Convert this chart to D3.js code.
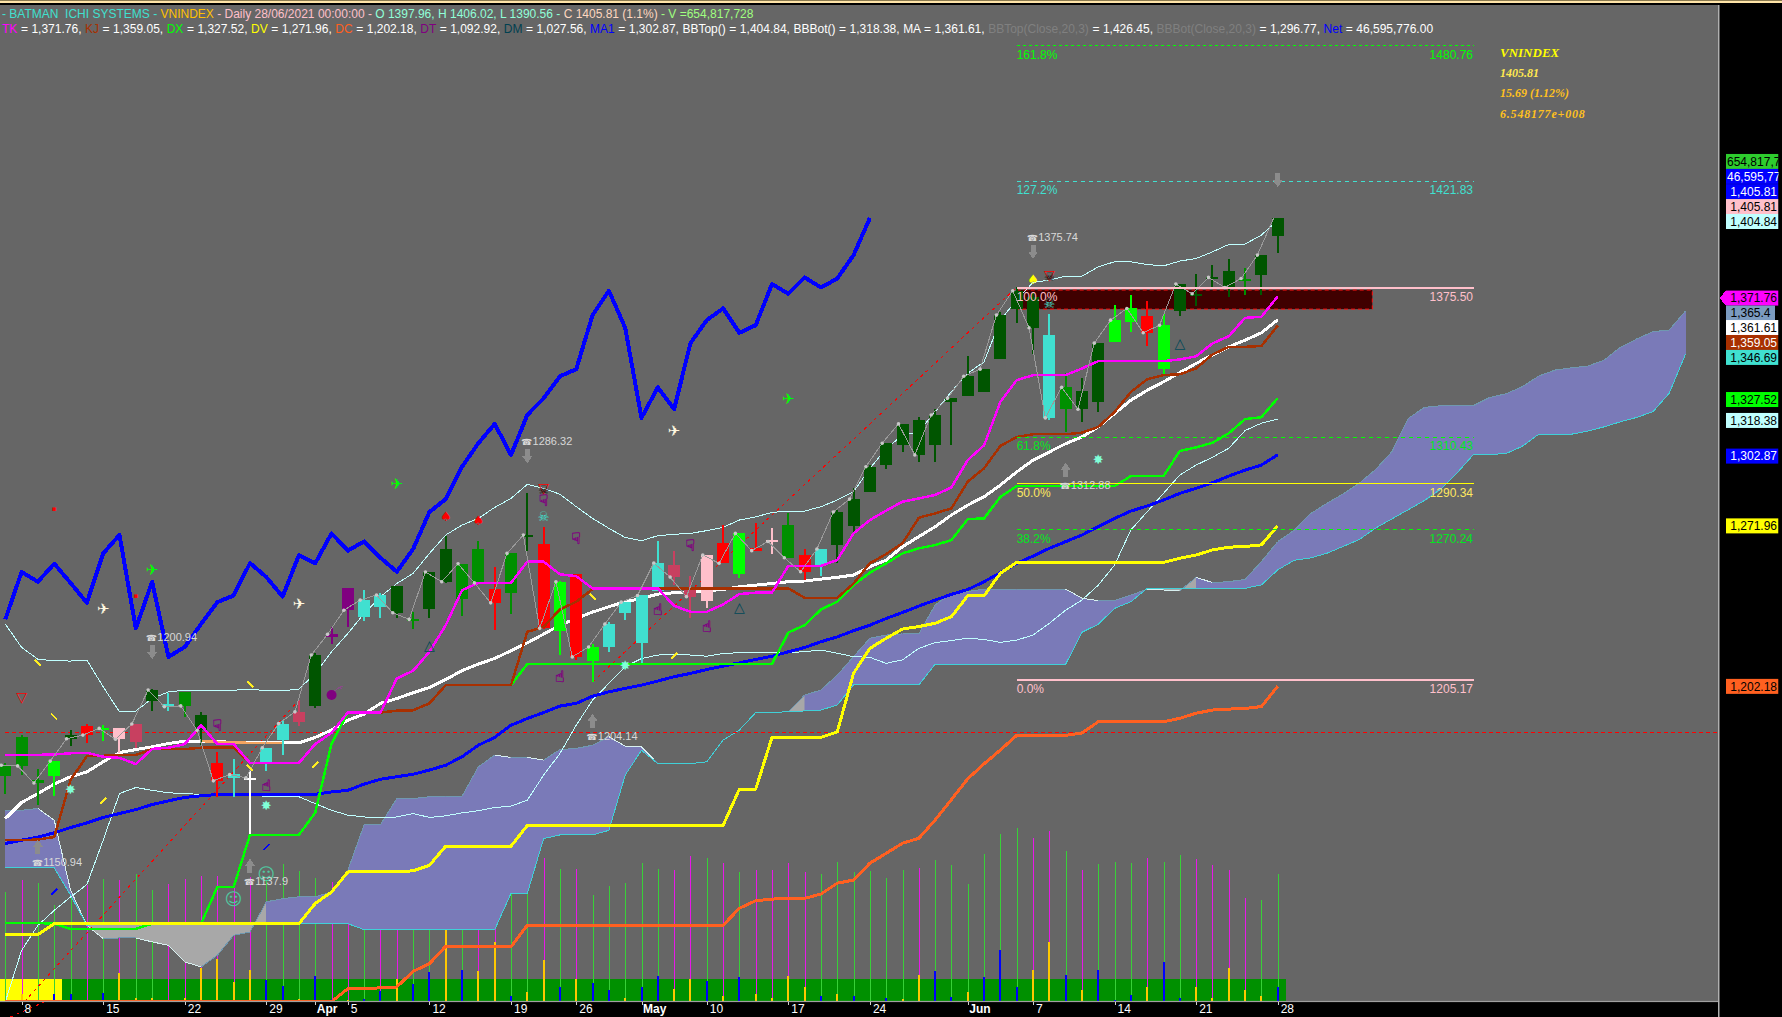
<!DOCTYPE html>
<html>
<head>
<meta charset="utf-8">
<title>VNINDEX</title>
<script src="https://cdn.jsdelivr.net/npm/d3@7"></script>
<style>
  html, body { margin: 0; padding: 0; background: #666666; overflow: hidden; }
  svg { display: block; }
  text { font-family: "Liberation Sans", Arial, sans-serif; font-size: 12px; }
  path, line { shape-rendering: crispEdges; }
</style>
</head>
<body>
<svg id="chart" width="1782" height="1017"></svg>
<script>
// candles (index 0 = 5 Mar 2021, index 78 = 28 Jun 2021)
var open = [1163.3,1180.0,1161.3,1163.1,1181.1,1184.9,1183.4,1184.3,1178.1,1195.9,1194.7,1199.8,1189.7,1168.7,1162.4,1161.8,1169.1,1178.8,1186.8,1193.6,
  1223.8,1244.8,1232.4,1236.7,1245.8,1231.0,1235.8,1261.9,1240.1,1261.9,1244.5,1242.9,1267.0,1264.1,1226.4,1251.0,1213.3,1219.3,1234.2,1221.1,
  1243.8,1254.9,1245.5,1239.3,1264.4,1251.2,1262.2,1265.8,1272.3,1259.3,1254.9,1263.6,1271.9,1286.8,1298.4,1307.1,1318.0,1307.1,1325.9,1328.5,
  1330.2,1344.6,1366.2,1371.6,1354.9,1322.7,1330.5,1325.9,1352.0,1360.7,1363.1,1340.1,1365.3,1372.0,1379.1,1382.7,1379.1,1381.0,1397.96];
var high = [1168.9,1181.0,1166.2,1169.7,1183.2,1186.0,1185.6,1184.3,1185.8,1200.9,1199.1,1199.8,1191.1,1173.7,1170.4,1165.3,1175.5,1187.1,1196.2,1216.5,
  1227.8,1244.8,1244.0,1242.9,1245.8,1234.6,1251.9,1267.5,1255.5,1265.4,1253.9,1260.0,1286.3,1271.3,1248.0,1251.0,1220.4,1230.3,1238.8,1241.7,
  1265.4,1261.0,1250.1,1259.3,1272.3,1268.7,1273.0,1270.9,1277.4,1261.9,1261.9,1278.7,1288.3,1298.3,1307.9,1316.3,1319.2,1322.6,1327.4,1345.8,
  1340.1,1365.0,1375.7,1373.0,1364.0,1338.6,1336.2,1351.4,1367.9,1372.3,1369.7,1364.0,1377.1,1381.4,1385.3,1387.9,1384.0,1389.7,1406.02];
var low = [1155.6,1163.6,1150.5,1154.6,1176.3,1177.6,1178.4,1173.0,1175.6,1191.6,1191.6,1189.0,1176.6,1153.9,1154.2,1137.9,1165.5,1172.3,1184.9,1192.6,
  1220.6,1227.8,1230.7,1231.7,1232.0,1227.1,1232.0,1247.2,1232.9,1247.2,1226.9,1233.5,1261.2,1227.1,1215.8,1213.6,1204.1,1217.2,1231.0,1212.2,
  1243.8,1246.2,1231.7,1236.4,1255.7,1249.1,1261.2,1259.7,1258.1,1248.4,1250.1,1255.7,1268.7,1286.8,1296.7,1304.2,1299.9,1299.9,1307.1,1328.5,
  1330.2,1344.6,1360.2,1346.6,1317.9,1312.9,1317.2,1321.5,1352.0,1356.3,1350.2,1338.2,1363.1,1367.5,1375.6,1371.5,1372.3,1372.3,1390.56];
var close = [1167.9,1167.6,1160.2,1169.7,1179.4,1181.0,1183.9,1179.2,1185.8,1200.6,1193.3,1193.7,1183.1,1161.1,1163.9,1162.4,1175.5,1186.0,1191.1,1215.8,
  1224.8,1235.3,1239.7,1241.9,1234.2,1231.3,1251.9,1247.7,1255.5,1247.2,1238.5,1260.0,1268.0,1227.4,1247.7,1215.0,1219.3,1229.3,1238.8,1241.7,
  1255.8,1249.7,1241.2,1259.3,1255.7,1268.7,1261.2,1265.2,1258.1,1252.0,1261.9,1278.0,1283.6,1297.7,1307.9,1316.3,1302.8,1320.2,1327.4,1337.0,
  1340.1,1363.6,1374.2,1358.1,1318.9,1332.2,1322.7,1351.4,1361.4,1366.5,1355.9,1359.2,1377.1,1372.9,1380.0,1375.6,1379.5,1389.7,1405.81];
var candleKind = "GGGBDRBPCDTGDRTWTTCDVVTTDGDDGGRGDRBRBTTTTCCPRBRPGRTDDDDDDDDDDDDDTGDDBBRBDDDDGDD".split("");

// indicator lines
var tk = [1172.4,1172.4,1172.4,1172.6,1173.1,1173.3,1171.6,1171.1,1168.4,1175.0,1175.5,1177.1,1185.3,1177.1,1177.1,1168.9,1168.9,1168.9,1168.9,1177.1,
  1182.0,1190.8,1190.8,1190.8,1205.6,1209.0,1217.2,1228.8,1244.0,1247.2,1247.2,1247.2,1256.4,1256.4,1250.9,1250.1,1244.8,1244.8,1244.8,1244.8,
  1244.8,1237.2,1234.6,1234.6,1237.8,1242.3,1242.9,1243.0,1254.6,1254.6,1254.6,1257.1,1268.7,1274.5,1278.6,1282.5,1283.9,1285.4,1288.7,1300.6,
  1307.0,1325.9,1335.3,1337.5,1337.5,1337.5,1340.4,1343.6,1343.6,1343.6,1343.6,1343.6,1344.3,1345.7,1351.3,1354.4,1362.4,1362.9,1371.76];
var kj = [1135.3,1135.3,1135.6,1136.7,1161.4,1172.0,1172.0,1172.3,1172.3,1174.9,1174.9,1174.9,1175.5,1175.5,1175.5,1168.9,1168.9,1168.9,1168.9,1177.1,
  1182.0,1190.8,1190.8,1190.8,1191.6,1191.8,1194.8,1202.7,1202.7,1202.7,1202.7,1202.7,1225.9,1228.1,1235.6,1239.0,1244.5,1244.8,1244.8,1244.8,
  1244.8,1244.8,1244.8,1244.8,1244.8,1244.8,1244.8,1244.8,1244.8,1240.7,1240.7,1240.7,1246.9,1255.7,1259.7,1264.4,1275.5,1277.4,1279.6,1291.2,
  1297.0,1306.7,1310.6,1311.8,1311.8,1311.8,1312.5,1315.0,1321.5,1330.2,1335.7,1337.5,1337.9,1340.4,1346.5,1349.8,1349.8,1350.2,1359.05];
var ma = [1144.7,1151.7,1155.6,1159.7,1162.9,1165.0,1169.4,1173.4,1174.7,1175.9,1177.3,1178.4,1178.4,1178.1,1177.9,1177.6,1177.6,1177.6,1177.6,1180.0,
  1183.2,1187.5,1190.1,1194.8,1196.9,1199.4,1201.7,1205.2,1209.0,1211.9,1214.3,1217.7,1221.1,1224.9,1228.8,1231.7,1234.5,1236.8,1239.0,1240.4,
  1242.3,1242.9,1243.3,1243.8,1244.3,1245.5,1246.2,1246.9,1247.7,1248.0,1248.8,1249.6,1250.6,1254.2,1257.1,1262.9,1267.3,1271.6,1276.7,1281.0,
  1284.6,1289.7,1295.4,1300.5,1304.1,1307.7,1310.6,1315.0,1320.8,1326.6,1330.9,1334.6,1338.6,1342.6,1346.2,1349.8,1352.7,1355.9,1361.61];
var dx = [1099.3,1099.3,1099.3,1099.0,1096.7,1096.7,1096.7,1096.7,1096.7,1099.0,1099.0,1099.0,1099.0,1115.0,1115.0,1137.6,1137.6,1137.6,1137.6,1147.3,
  1177.3,1190.8,1190.8,1190.8,1191.6,1191.8,1194.8,1202.7,1202.7,1202.7,1202.7,1202.7,1211.9,1211.9,1211.9,1211.9,1211.9,1211.9,1211.9,1211.9,
  1211.9,1211.9,1211.9,1211.9,1211.9,1211.9,1211.9,1211.9,1225.6,1228.8,1235.6,1239.0,1246.2,1251.6,1255.7,1260.0,1262.2,1263.6,1265.8,1274.9,
  1275.2,1284.6,1289.3,1289.3,1289.3,1289.3,1289.3,1289.3,1289.3,1293.6,1293.6,1293.6,1304.5,1306.1,1308.1,1312.2,1318.4,1319.2,1327.52];
var dv = [1094.3,1094.3,1094.3,1099.0,1099.0,1099.0,1099.0,1099.0,1099.0,1099.0,1099.0,1099.0,1099.0,1099.0,1099.0,1099.0,1099.0,1099.0,1099.0,1107.8,
  1112.8,1121.5,1121.5,1121.5,1121.5,1122.0,1124.4,1132.7,1132.7,1132.7,1132.7,1132.7,1141.7,1141.7,1141.7,1141.7,1141.7,1141.7,1141.7,1141.7,
  1141.7,1141.7,1141.7,1141.7,1141.7,1157.5,1157.5,1180.0,1180.0,1180.0,1180.0,1182.4,1207.9,1218.7,1223.1,1227.1,1228.2,1229.6,1232.5,1241.6,
  1241.6,1251.4,1256.1,1256.1,1256.1,1256.1,1256.1,1256.1,1256.1,1256.1,1256.1,1256.1,1257.9,1259.3,1261.5,1262.7,1263.0,1263.7,1271.96];
var dc = [1065.1,1065.1,1065.1,1065.1,1065.1,1065.1,1065.1,1065.1,1065.1,1065.1,1065.1,1065.1,1065.1,1065.1,1065.1,1065.1,1065.1,1065.1,1065.1,1065.1,
  1065.1,1070.8,1070.8,1071.1,1071.5,1078.3,1081.6,1089.2,1089.2,1089.2,1089.2,1089.0,1098.3,1098.3,1098.3,1098.3,1098.3,1098.3,1098.3,1098.3,
  1098.3,1098.3,1098.3,1098.3,1098.3,1105.7,1109.0,1109.7,1110.0,1110.0,1111.9,1116.6,1118.0,1125.3,1129.6,1134.0,1136.1,1144.1,1153.0,1162.0,
  1168.5,1174.5,1180.9,1180.9,1180.9,1180.9,1181.9,1186.8,1186.8,1186.8,1186.8,1186.8,1188.3,1190.5,1191.9,1192.3,1192.6,1193.4,1202.18];
var ma1 = [1133.9,1135.3,1136.7,1138.5,1140.8,1142.8,1145.2,1146.9,1148.6,1150.8,1152.4,1153.9,1154.6,1155.2,1155.3,1155.3,1155.3,1155.3,1155.3,1155.3,
  1156.3,1157.0,1159.7,1161.8,1162.9,1164.0,1165.8,1167.9,1171.6,1176.6,1180.0,1185.3,1188.2,1190.8,1193.6,1194.8,1197.9,1199.8,1201.3,1202.7,
  1204.5,1206.4,1207.8,1209.5,1211.0,1212.4,1213.9,1215.3,1217.2,1219.1,1221.6,1223.7,1226.4,1228.8,1231.7,1234.3,1237.1,1239.7,1242.2,1244.3,
  1247.7,1251.6,1255.7,1258.8,1262.2,1265.1,1268.0,1271.6,1275.2,1278.4,1280.6,1283.2,1286.1,1288.3,1290.7,1293.6,1296.2,1298.4,1302.87];
var bbTop = [1229.3,1219.1,1214.0,1213.3,1213.2,1213.6,1202.0,1191.1,1191.4,1196.9,1199.8,1200.5,1200.5,1200.5,1200.5,1201.0,1200.3,1200.3,1201.0,1207.8,
  1217.2,1225.2,1233.9,1241.2,1246.9,1251.3,1260.0,1268.0,1272.3,1275.2,1280.0,1283.9,1290.0,1288.3,1285.7,1280.3,1275.2,1270.9,1266.9,1265.5,
  1267.7,1268.3,1268.7,1269.9,1271.3,1274.5,1275.9,1277.8,1278.4,1278.4,1280.3,1283.2,1286.8,1296.9,1305.6,1311.4,1312.9,1321.6,1330.3,1338.3,
  1343.3,1361.5,1370.1,1377.8,1378.8,1380.5,1380.5,1384.6,1386.8,1386.8,1385.6,1385.0,1387.1,1388.2,1391.1,1394.3,1394.5,1398.4,1404.84];
var bbBot = [1065.0,1087.4,1098.3,1104.8,1110.6,1116.0,1135.3,1155.6,1158.2,1157.0,1155.9,1155.6,1155.2,1155.2,1155.3,1154.9,1154.4,1154.2,1154.2,1151.2,
  1148.3,1146.2,1145.4,1145.2,1145.4,1146.9,1145.2,1145.9,1147.2,1148.1,1149.5,1150.1,1152.7,1163.6,1173.0,1185.3,1196.2,1203.5,1210.7,1214.3,
  1215.8,1216.2,1215.8,1215.3,1216.5,1216.8,1217.1,1216.8,1216.8,1217.3,1218.0,1216.6,1215.1,1214.8,1212.2,1213.7,1218.7,1221.2,1222.1,1223.1,
  1222.6,1221.3,1222.3,1224.5,1229.6,1235.3,1239.7,1246.2,1254.9,1270.2,1278.1,1286.1,1294.1,1298.4,1301.8,1305.7,1313.4,1316.6,1318.38];

// ichimoku cloud, runs 25 bars past the last candle
var spanA = [1148.1,1148.3,1149.1,1144.0,1113.6,1098.3,1092.5,1092.8,1092.8,1091.1,1089.6,1082.4,1080.2,1085.3,1094.0,1095.4,1108.5,1109.9,1110.7,1110.7,
  1112.8,1122.2,1142.1,1142.1,1153.4,1153.4,1154.2,1154.4,1154.4,1167.2,1172.3,1171.3,1171.3,1170.1,1174.7,1175.2,1176.6,1180.3,1176.2,1175.9,
  1168.6,1168.6,1168.6,1169.4,1178.8,1183.2,1190.8,1190.8,1191.2,1198.4,1200.6,1207.1,1215.1,1223.1,1224.5,1225.0,1225.0,1237.6,1242.6,1243.4,
  1244.5,1244.5,1244.5,1244.5,1244.5,1244.5,1240.5,1239.5,1239.5,1241.9,1244.4,1244.1,1243.7,1249.6,1247.3,1247.7,1248.7,1256.4,1265.1,1270.0,
  1277.2,1281.7,1285.8,1290.5,1296.5,1304.2,1318.7,1323.5,1324.2,1324.3,1324.3,1327.8,1329.4,1332.5,1337.1,1339.7,1340.7,1341.4,1344.0,1349.6,
  1353.2,1356.4,1357.1,1365.4];
var spanB = [1123.3,1123.3,1123.3,1123.3,1111.4,1098.3,1099.0,1099.0,1099.0,1099.0,1099.0,1099.0,1099.0,1099.0,1099.0,1099.0,1099.0,1099.0,1099.0,1099.0,
  1099.0,1099.0,1096.4,1096.4,1096.4,1096.4,1096.4,1096.4,1096.4,1096.4,1096.4,1112.2,1112.2,1136.0,1137.6,1137.6,1137.6,1139.6,1163.6,1174.4,
  1168.6,1168.6,1168.6,1169.4,1178.8,1183.2,1190.8,1190.8,1191.2,1191.5,1191.9,1194.1,1202.8,1202.8,1202.8,1202.8,1202.8,1211.8,1211.8,1211.8,
  1211.8,1211.8,1211.8,1211.8,1211.8,1211.8,1225.7,1229.2,1236.1,1239.0,1244.8,1244.8,1244.8,1244.8,1244.8,1244.8,1244.8,1246.3,1252.8,1257.0,
  1258.0,1260.0,1263.0,1266.0,1271.0,1275.0,1279.0,1283.0,1288.0,1295.0,1303.0,1303.0,1303.4,1306.6,1311.8,1311.8,1311.8,1313.2,1315.0,1317.2,
  1319.1,1321.6,1329.6,1346.69];

// volume pane (millions)
var volume = [564,627,612,496,538,598,632,627,655,573,603,629,644,648,620,641,624,709,670,637,
  615,641,640,650,660,620,610,600,640,660,650,620,600,738,684,684,547,593,612,714,
  684,675,747,738,713,667,678,675,713,667,658,718,667,670,637,678,687,726,701,603,
  757,860,890,843,877,772,675,706,718,713,740,718,752,731,701,675,535,521,655];
var volumeKind = "GMGGGMGMGGMMMMMMGGGGMMGMMGGGGMMGGMGMGGGGGMMGMGMMMMGGGGGGMGGGGGGMMGMGGGMGGMMMMGG".split("");
var net = [0,-23,5,26,26,-7,28,-91,-13,-13,-5,-13,-104,-132,-62,-100,69,48,-10,80,
  10,-7,10,34,-72,57,92,-223,100,-95,-186,18,-30,-129,47,-70,58,36,-13,47,
  80,-39,-70,64,-18,76,-24,-11,-80,-46,18,-24,18,0,11,-8,-83,95,14,-30,
  77,160,46,-98,-185,83,-36,98,5,21,-46,123,11,-46,-11,-105,-36,-18,46.6];
var stripKind = ["Y","Y","Y","Y"];

// axis
var tickIdx = [1,6,11,16,19,21,26,31,35,39,43,48,53,59,63,68,73,78];
var tickText = ["8","15","22","29","Apr","5","12","19","26","May","10","17","24","Jun","7","14","21","28"];

// fibonacci levels
var fibPct = ["161.8%","127.2%","100.0%","61.8%","50.0%","38.2%","0.0%"];
var fibPrice = [1480.76,1421.83,1375.50,1310.43,1290.34,1270.24,1205.17];
var fibSpan = [62, 90];
var fibRays = [[[0.3,1058.4],[18,1196.2]],[[36,1204.1],[62,1375.7]]];
var redLevel = 1182.2;
var zone = {from: 62, to: 83.8, top: 1374.5, bottom: 1366.2};

// markers: [bar, price]
var planesGreen = [[9,1252.8],[24,1290.2],[48,1327.1]];
var planesWhite = [[6,1235.8],[18,1238.0],[41,1313.2]];
var redDots = [[3,1279.7],[8,1241.5]];
var spadesRed = [[27,1276.2],[29,1274.5]];
var spadesYellow = [[63,1378.9]];
var handsDown = [[13,1185.4],[35,1266.7],[42,1263.6],[33,1283.0]];
var handsUp = [[16,1159.0],[34,1206.7],[40,1235.8],[43,1228.1]];
var skullsTeal = [[33,1276.0],[64,1368.8]];
var skullsDark = [[33,1287.5],[64,1380.2]];
var trianglesDown = [[1,1197.6],[33,1288.5],[64,1381.0]];
var trianglesUp = [[26,1220.0],[45,1236.8],[72,1351.5]];
var stars = [[4,1157.5],[16,1150.2],[38,1211.2],[67,1301.0]];
var smileys = [[14,1109.7],[16,1120.6]];
var bombs = [[20,1198.4]];
var pensDown = [[2,1212.5],[15,1203.2],[3,1189.0],[15,1166.7],[36,1241.2]];
var pensUp = [[6,1152.3],[19,1168.0],[41,1215.4]];
var ticksBlue = [[3,1112.9],[16,1132.3]];

// phone labels at the swing points
var phoneIdx = [2,15,9,32,36,63,65];
var phoneVal = ["1150.94","1137.9","1200.94","1286.32","1204.14","1375.74","1312.88"];
var phoneAt = [1125.9,1117.7,1223.6,1308.7,1180.7,1397.7,1289.8];
var phoneDir = ["up","up","down","down","up","down","up"];
var lastArrow = [78,1422.3];

// value tags on the right
var tagText = ["654,817,728","46,595,776","1,405.81","1,405.81","1,404.84","1,371.76","1,365.4","1,361.61","1,359.05","1,346.69","1,327.52","1,318.38","1,302.87","1,271.96","1,202.18"];
var tagAt = [1430.4,1423.9,1417.3,1410.8,1404.3,1371.0,1364.5,1358.2,1351.7,1345.2,1326.9,1317.8,1302.3,1271.96,1202.18];
var tagFill = ["#2ecc2e","#0000ff","#0000ff","#ffc0cb","#c0ffff","#ff00ff","#7b9bc0","#ffffff","#a83000","#40e0d0","#00ff00","#c0ffff","#0000ff","#ffff00","#ff6020"];
var tagInk = ["#000","#fff","#fff","#000","#000","#000","#000","#000","#fff","#000","#000","#000","#fff","#000","#000"];

var headerOne = [["- BATMAN  ICHI SYSTEMS - ","#40e0d0"],["VNINDEX","#ffc000"],[" - Daily 28/06/2021 00:00:00 - ","#ffc0cb"],["O 1397.96, H 1406.02, L 1390.56 - ","#90ffd8"],["C 1405.81 (1.1%)","#ffd8c0"],[" - V =654,817,728","#a0ff80"]];
var legendName = ["TK","KJ","DX","DV","DC","DT","DM","MA1","BBTop()","BBBot()","MA","BBTop(Close,20,3)","BBBot(Close,20,3)","Net"];
var legendValue = ["1,371.76","1,359.05","1,327.52","1,271.96","1,202.18","1,092.92","1,027.56","1,302.87","1,404.84","1,318.38","1,361.61","1,426.45","1,296.77","46,595,776.00"];
var legendInk = ["#ff00ff","#a83000","#00ff00","#ffff00","#ff6020","#800080","#004050","#0000ff","#ffffff","#ffffff","#ffffff","#808080","#808080","#0000ff"];
var infoLines = ["VNINDEX","1405.81","15.69 (1.12%)","6.548177e+008"];
var infoInk = ["#ffff00","#ffe850","#ffc020","#ffc020"];

var svg = d3.select("#chart"),
    width = +svg.attr("width"),
    height = +svg.attr("height"),
    plotRight = 1718,
    baseY = 1001.9;

var x = d3.scaleLinear().domain([0, 78]).range([5.3, 1277.7]);
var y = d3.scaleLinear().domain([1500.6, 1065]).range([0, baseY]);
var volY = d3.scaleLinear().domain([0, 1000]).range([baseY, baseY - 195]);
var netY = d3.scaleLinear().domain([0, 100]).range([baseY, baseY - 32.2]);

var candleFill = {D:"#005500", G:"#009000", B:"#00ff00", R:"#ff0000", T:"#40e0d0", P:"#ffc0cb", C:"#c84060", V:"#800080", W:"#ffffff"};

var priceLine = d3.line().x(function(d, i) { return x(i); }).y(function(d) { return y(d); });

function drawLine(layer, values, color, w) {
  return layer.append("path")
    .attr("d", priceLine(values))
    .attr("fill", "none")
    .attr("stroke", color)
    .attr("stroke-width", w)
    .attr("stroke-linejoin", "round");
}

function drawGlyph(list, glyph, color, size, heavy) {
  svg.append("g").selectAll("text")
    .data(list)
    .enter().append("text")
      .attr("x", function(d) { return x(d[0]); })
      .attr("y", function(d) { return y(d[1]); })
      .attr("dy", "0.35em")
      .attr("text-anchor", "middle")
      .attr("fill", color)
      .attr("stroke", heavy ? color : "none")
      .attr("stroke-width", heavy ? 0.4 : 0)
      .style("font-family", "'DejaVu Sans'")
      .style("font-size", size + "px")
      .text(glyph);
}

function drawTick(list, dir, color, w) {
  svg.append("g").selectAll("line")
    .data(list)
    .enter().append("line")
      .attr("x1", function(d) { return x(d[0]) - 3; })
      .attr("x2", function(d) { return x(d[0]) + 3; })
      .attr("y1", function(d) { return y(d[1]) - 3 * dir; })
      .attr("y2", function(d) { return y(d[1]) + 3 * dir; })
      .attr("stroke", color)
      .attr("stroke-width", w);
}

// backdrop
svg.append("rect").attr("width", width).attr("height", height).attr("fill", "#666666");

// bottom strip, one cell per bar
svg.append("g").selectAll("rect")
  .data(close)
  .enter().append("rect")
    .attr("x", function(d, i) { return i == 0 ? 0 : x(i - 0.5); })
    .attr("y", 979)
    .attr("width", function(d, i) { return i == 0 ? x(0.5) : x(1) - x(0); })
    .attr("height", 21.5)
    .attr("fill", function(d, i) { return stripKind[i] == "Y" ? "#ffff00" : "#009000"; })
    .attr("shape-rendering", "crispEdges");

// volume sticks
svg.append("g").selectAll("rect")
  .data(volume)
  .enter().append("rect")
    .attr("x", function(d, i) { return Math.round(x(i)); })
    .attr("y", function(d) { return volY(d); })
    .attr("width", 1)
    .attr("height", function(d) { return baseY - volY(d); })
    .attr("fill", function(d, i) { return volumeKind[i] == "M" ? "#e818e8" : "#38d038"; })
    .attr("shape-rendering", "crispEdges");

svg.append("g").selectAll("rect")
  .data(net)
  .enter().append("rect")
    .attr("x", function(d, i) { return Math.round(x(i)) - 1; })
    .attr("y", function(d) { return netY(Math.abs(d)); })
    .attr("width", 2)
    .attr("height", function(d) { return baseY - netY(Math.abs(d)); })
    .attr("fill", function(d) { return d < 0 ? "#ffc800" : "#0000ff"; })
    .attr("shape-rendering", "crispEdges");

// cloud, a polygon per bar gap, grey while A sits under B on the left edge
var cloud = svg.append("g");
d3.pairs(d3.range(spanA.length)).forEach(function(p) {
  var i = p[0], j = p[1];
  cloud.append("path")
    .attr("d", d3.line()([[x(i), y(spanA[i])], [x(j), y(spanA[j])], [x(j), y(spanB[j])], [x(i), y(spanB[i])]]) + "Z")
    .attr("fill", spanA[i] <= spanB[i] ? "#a8a8a8" : "#7a7ab8")
    .attr("stroke", spanA[i] <= spanB[i] ? "#a8a8a8" : "#7a7ab8")
    .attr("stroke-width", 0.5);
  cloud.append("line")
    .attr("x1", x(i)).attr("y1", y(spanA[i]))
    .attr("x2", x(j)).attr("y2", y(spanA[j]))
    .attr("stroke", spanA[j] < spanA[i] ? "#d8f0f0" : "#7098b0");
});
drawLine(cloud, spanB, "#40d0d8", 1);

// resistance zone
svg.append("rect")
  .attr("x", x(zone.from))
  .attr("y", y(zone.top))
  .attr("width", x(zone.to) - x(zone.from))
  .attr("height", y(zone.bottom) - y(zone.top))
  .attr("fill", "#400000")
  .attr("stroke", "#ff1010")
  .attr("stroke-dasharray", "4,3");

// fibonacci lines
var fibColor = ["#00ff00","#40e0d0","#ffc0cb","#00ff00","#ffff00","#00ff00","#ffc0cb"];
var fibDash = ["3,3","4,4",null,"4,4",null,"4,4",null];
var fibWidth = [1,1,2,1,1.5,1,2];
var fibText = ["#00ff00","#40e0d0","#ffc0cb","#00e820","#ffe860","#00e820","#ffc0cb"];
var fibG = svg.append("g");
fibPrice.forEach(function(v, k) {
  fibG.append("line")
    .attr("x1", x(fibSpan[0])).attr("x2", 1474)
    .attr("y1", y(v)).attr("y2", y(v))
    .attr("stroke", fibColor[k])
    .attr("stroke-width", fibWidth[k])
    .attr("stroke-dasharray", fibDash[k]);
});
fibRays.forEach(function(r) {
  svg.append("line")
    .attr("x1", x(r[0][0])).attr("y1", y(r[0][1]))
    .attr("x2", x(r[1][0])).attr("y2", y(r[1][1]))
    .attr("stroke", "#ff0000")
    .attr("stroke-dasharray", "3,4");
});
svg.append("line")
  .attr("x1", 5).attr("x2", plotRight)
  .attr("y1", y(redLevel)).attr("y2", y(redLevel))
  .attr("stroke", "#ff0000")
  .attr("stroke-dasharray", "4,3");

// lines behind the candles
var back = svg.append("g");
drawLine(back, bbTop, "#c0ffff", 1);
drawLine(back, bbBot, "#c0ffff", 1);
drawLine(back, ma1, "#0000ff", 3);
drawLine(back, ma, "#ffffff", 3);
back.append("path")
  .attr("d", d3.line().x(function(d) { return x(d[0]); }).y(function(d) { return y(d[1]); })(d3.range(12, 18).map(function(i) { return [i, ma[i]]; })))
  .attr("fill", "none").attr("stroke", "#f4a460").attr("stroke-width", 2.5);

// candles
var candles = svg.append("g").attr("shape-rendering", "crispEdges");
candles.selectAll(".wick")
  .data(close)
  .enter().append("rect")
    .attr("class", "wick")
    .attr("x", function(d, i) { return Math.round(x(i)) - 1; })
    .attr("y", function(d, i) { return y(high[i]); })
    .attr("width", 2)
    .attr("height", function(d, i) { return y(low[i]) - y(high[i]); })
    .attr("fill", function(d, i) { return candleFill[candleKind[i]]; });
candles.selectAll(".body")
  .data(close)
  .enter().append("rect")
    .attr("class", "body")
    .attr("x", function(d, i) { return Math.round(x(i)) - 6; })
    .attr("y", function(d, i) { return y(Math.max(open[i], close[i])); })
    .attr("width", 12)
    .attr("height", function(d, i) { return Math.max(2, Math.abs(y(open[i]) - y(close[i]))); })
    .attr("fill", function(d, i) { return candleFill[candleKind[i]]; });

// lines over the candles
var front = svg.append("g");
drawLine(front, dx, "#00ff00", 2.5);
drawLine(front, dv, "#ffff00", 3);
drawLine(front, dc, "#ff6020", 3);
drawLine(front, kj, "#a83000", 2.5);
drawLine(front, tk, "#ff00ff", 2.5);
// chikou: the close drawn 25 bars back
drawLine(front, close.slice(25), "#0000ff", 4);

// close line with its dots
var dotX = function(i) { return x(i) - 4; };
front.append("path")
  .attr("d", d3.line().x(function(d, i) { return dotX(i); }).y(function(d) { return y(d); })(close))
  .attr("fill", "none")
  .attr("stroke", "#9a9a9a");
front.selectAll("circle")
  .data(close.slice(0, 78))
  .enter().append("circle")
    .attr("cx", function(d, i) { return dotX(i); })
    .attr("cy", function(d) { return y(d); })
    .attr("r", 1.8)
    .attr("fill", "#c8c8c8");

// fibonacci labels sit above the candles
fibPrice.forEach(function(v, k) {
  fibG.raise();
  svg.append("text").attr("x", x(fibSpan[0])).attr("y", y(v) + 13).attr("fill", fibText[k]).text(fibPct[k]);
  svg.append("text").attr("x", 1473).attr("y", y(v) + 13).attr("text-anchor", "end").attr("fill", fibText[k]).text(d3.format(".2f")(v));
});

// markers
drawGlyph(planesGreen, "\u2708", "#00ff00", 15);
drawGlyph(planesWhite, "\u2708", "#fff8e0", 15);
drawGlyph(redDots, "\u25AA", "#ff0000", 7);
drawGlyph(spadesRed, "\u2660", "#ff0000", 13);
drawGlyph(spadesYellow, "\u2660", "#ffff00", 13);
drawGlyph(handsDown, "\u261F", "#800080", 16, true);
drawGlyph(handsUp, "\u261D", "#800080", 16, true);
drawGlyph(trianglesDown, "\u25BD", "#ff0000", 14);
drawGlyph(skullsDark, "\u2620", "#101010", 12);
drawGlyph(skullsTeal, "\u2620", "#40e0d0", 13);
drawGlyph(trianglesUp, "\u25B3", "#004858", 14);
drawGlyph(stars, "\u2738", "#80ffd8", 13);
drawGlyph(smileys, "\u263A", "#50c8a0", 17);
drawTick(pensDown, 1, "#ffee20", 2);
drawTick(pensUp, -1, "#ffee20", 2);
drawTick(ticksBlue, -1, "#0000ff", 1.5);

// bomb
svg.append("g").selectAll("g")
  .data(bombs)
  .enter().append("g")
    .attr("transform", function(d) { return "translate(" + (x(d[0])) + "," + y(d[1]) + ")"; })
    .each(function() {
      d3.select(this).append("circle").attr("r", 5).attr("fill", "#800080");
      d3.select(this).append("path").attr("d", "M3,-4L8,-8M8,-8l3,-1M8,-8l2,2").attr("stroke", "#8a4a8a").attr("fill", "none");
    });

// grey arrows and phone labels
function arrowPath(dir) {
  return dir == "up" ? "M0,-7L5,0L2.5,0L2.5,7L-2.5,7L-2.5,0L-5,0Z" : "M0,7L5,0L2.5,0L2.5,-7L-2.5,-7L-2.5,0L-5,0Z";
}
phoneVal.forEach(function(v, k) {
  var ax = x(phoneIdx[k]), ay = y(phoneAt[k]);
  svg.append("path")
    .attr("d", arrowPath(phoneDir[k]))
    .attr("transform", "translate(" + ax + "," + (phoneDir[k] == "up" ? ay - 15 : ay + 15) + ")")
    .attr("fill", "#8c8c8c");
  svg.append("text")
    .attr("x", ax - 6).attr("y", ay).attr("dy", "0.35em")
    .attr("fill", "#d8d8d8")
    .style("font-size", "11px")
    .html('<tspan style="font-family:\'DejaVu Sans\';font-size:9px">\u260E</tspan>' + v);
});
svg.append("path")
  .attr("d", arrowPath("down"))
  .attr("transform", "translate(" + x(lastArrow[0]) + "," + y(lastArrow[1]) + ")")
  .attr("fill", "#8c8c8c");

// frame: right panel, bottom band, top rule
svg.append("rect").attr("x", plotRight).attr("y", 5).attr("width", width - plotRight).attr("height", height - 5).attr("fill", "#000");
svg.append("rect").attr("x", plotRight).attr("y", 5).attr("width", 1.5).attr("height", height - 5).attr("fill", "#b0b0b0");
svg.append("rect").attr("x", 0).attr("y", baseY + 0.1).attr("width", plotRight).attr("height", height - baseY).attr("fill", "#000");
svg.append("rect").attr("x", 0).attr("y", baseY - 1).attr("width", plotRight).attr("height", 1.2).attr("fill", "#a0a0a0");
svg.append("rect").attr("width", width).attr("height", 1).attr("fill", "#8a7a50");
svg.append("rect").attr("y", 1).attr("width", width).attr("height", 2).attr("fill", "#ffe4a8");
svg.append("rect").attr("y", 3).attr("width", width).attr("height", 2).attr("fill", "#000");

// the first fib ray runs into the band
var r0 = fibRays[0];
svg.append("line")
  .attr("x1", x(r0[0][0])).attr("y1", y(r0[0][1]))
  .attr("x2", x(2.4)).attr("y2", baseY)
  .attr("stroke", "#ff0000")
  .attr("stroke-dasharray", "3,4");

// time axis
var axis = d3.axisBottom(x)
  .tickValues(tickIdx)
  .tickFormat(function(d, i) { return tickText[i]; })
  .tickSize(3)
  .tickSizeOuter(0);
var axisG = svg.append("g")
  .attr("transform", "translate(0," + (baseY + 0.5) + ")")
  .call(axis);
axisG.select(".domain").remove();
axisG.selectAll("line").attr("stroke", "#d0d0d0");
axisG.selectAll("text")
  .attr("y", 0)
  .attr("dy", 11)
  .attr("dx", function(d, i) { return /[A-Z]/.test(tickText[i]) ? 1 : 2.5; })
  .attr("text-anchor", "start")
  .attr("fill", "#ffffff")
  .style("font-family", "'Liberation Sans'")
  .style("font-size", "12px")
  .style("font-weight", function(d, i) { return /[A-Z]/.test(tickText[i]) ? "bold" : "normal"; });

// value tags
var tagClip = svg.append("clipPath").attr("id", "tagclip");
tagClip.append("rect").attr("x", 1726).attr("y", 0).attr("width", 52.5).attr("height", height);
var tags = svg.append("g").attr("clip-path", "url(#tagclip)");
tagText.forEach(function(t, k) {
  var cy = y(tagAt[k]);
  var shortTag = t == "1,365.4";
  tags.append("rect")
    .attr("x", 1726).attr("y", cy - 7.5)
    .attr("width", shortTag ? 49 : 52.5)
    .attr("height", 15)
    .attr("fill", tagFill[k]);
  tags.append("text")
    .attr("x", t.length > 8 ? 1727 : (shortTag ? 1730.5 : 1777))
    .attr("y", cy).attr("dy", "0.36em")
    .attr("text-anchor", t.length > 8 || shortTag ? "start" : "end")
    .attr("fill", tagInk[k])
    .text(t);
});
// pointer on the TK tag
svg.append("path")
  .attr("d", d3.line()([[1726, y(tagAt[5]) - 7.5], [1719.5, y(tagAt[5])], [1726, y(tagAt[5]) + 7.5]]) + "Z")
  .attr("fill", "#ff00ff");

// header lines
var head = svg.append("text").attr("x", 2).attr("y", 18).style("white-space", "pre");
headerOne.forEach(function(h) { head.append("tspan").attr("fill", h[1]).text(h[0]); });

var leg = svg.append("text").attr("x", 2).attr("y", 33).style("white-space", "pre").style("word-spacing", "0.2px");
legendName.forEach(function(n, k) {
  leg.append("tspan").attr("fill", legendInk[k]).text(n);
  leg.append("tspan").attr("fill", "#ffffff").text(" = " + legendValue[k] + (k < legendName.length - 1 ? ", " : ""));
});

// info block at the top right
infoLines.forEach(function(t, k) {
  svg.append("text")
    .attr("x", 1500)
    .attr("y", [57, 77, 97, 118][k])
    .attr("fill", infoInk[k])
    .style("font-family", "'Liberation Serif'")
    .style("font-style", "italic")
    .style("font-weight", "bold")
    .style("font-size", k == 0 ? "13px" : "12px")
    .style("letter-spacing", k == 3 ? "0.8px" : "0")
    .text(t);
});
</script>
</body>
</html>
